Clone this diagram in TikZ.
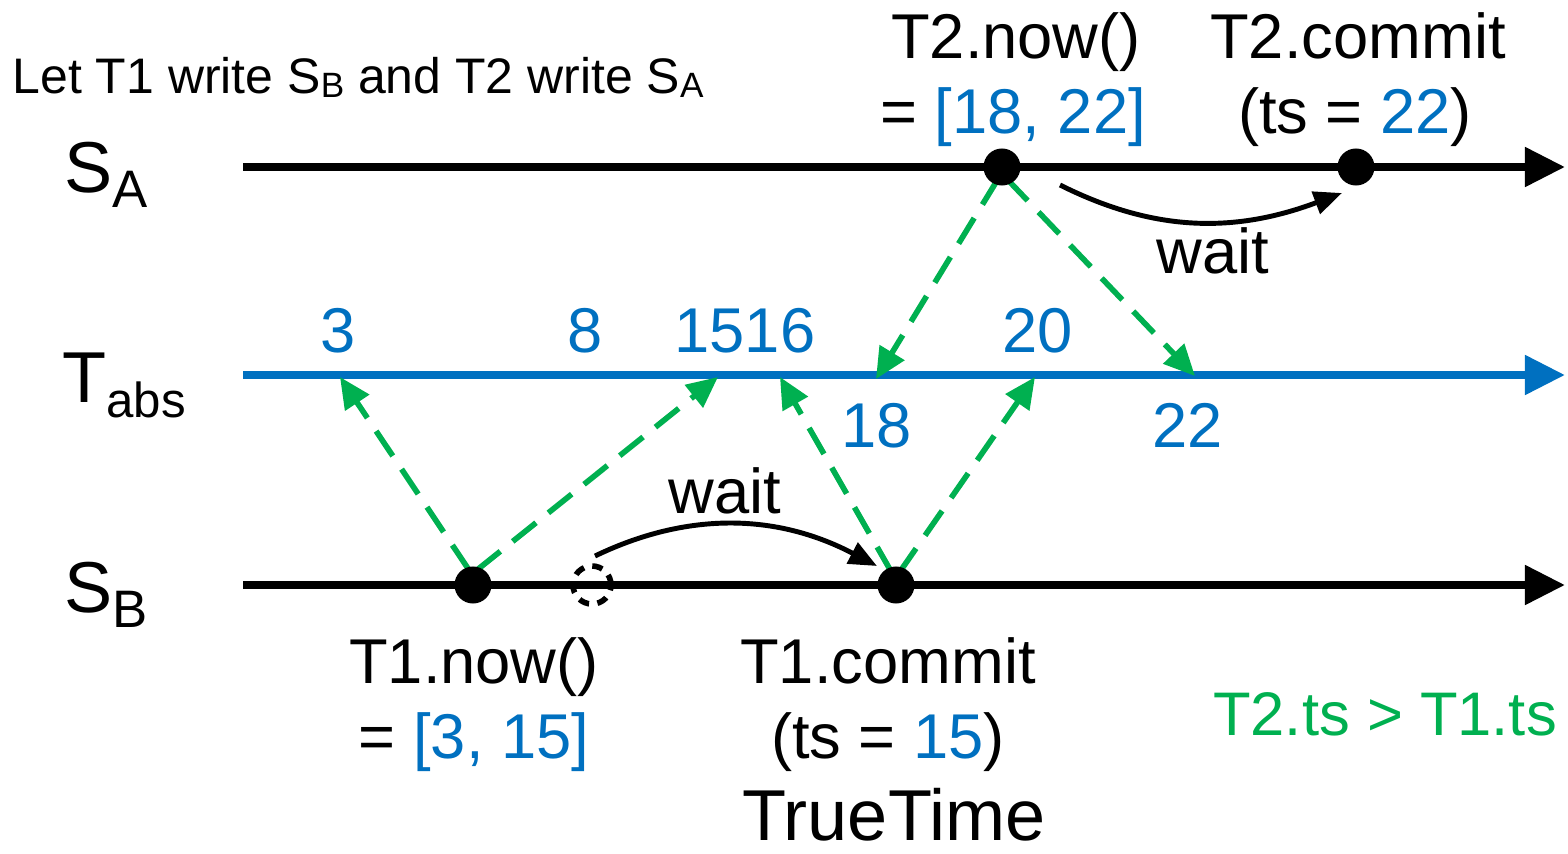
\documentclass[tikz,border=0pt]{standalone}
\usepackage{fontspec}
\setmainfont{Liberation Sans}
\usetikzlibrary{arrows.meta}
\definecolor{tblue}{RGB}{0,112,192}
\definecolor{tgreen}{RGB}{0,176,80}
\newcommand\fsz[1]{\fontsize{#1}{#1}\selectfont}
\begin{document}
\begin{tikzpicture}[x=0.01cm,y=-0.01cm,
  axis/.style={line width=2.3pt,-{Triangle[length=0.4cm,width=0.38cm]}},
  gdash/.style={tgreen,line width=1.6pt,dash pattern=on 8.5pt off 4.5pt,-{Triangle[length=0.31cm,width=0.28cm]}},
  waitarr/.style={line width=1.4pt,-{Triangle[length=0.28cm,width=0.23cm]}},
  evdot/.style={circle,fill=black,inner sep=0pt,minimum size=0.37cm},
  ghost/.style={circle,draw,line width=1.6pt,dash pattern=on 3pt off 2.4pt,inner sep=0pt,minimum size=0.38cm},
  lbl/.style={inner sep=0pt,anchor=base,font=\fsz{18}},
  num/.style={lbl,text=tblue},
  axlbl/.style={inner sep=0pt,anchor=base,font=\fsz{20.5}},
]
\useasboundingbox (0,0) rectangle (1568,854);

% axes
\coordinate (sa0) at (243,167);  \coordinate (sa1) at (1565,167);
\coordinate (ta0) at (243,375);  \coordinate (ta1) at (1565,375);
\coordinate (sb0) at (243,585);  \coordinate (sb1) at (1565,585);
\draw[axis] (sa0) -- (sa1);
\draw[axis,tblue] (ta0) -- (ta1);
\draw[axis] (sb0) -- (sb1);

% axis labels
\node[axlbl] (lsa) at (106,192) {S\raisebox{-4.3pt}{\fsz{15}A}};
\node[axlbl] (lta) at (124,402) {T\raisebox{-4.5pt}{\fsz{14}abs}};
\node[axlbl] (lsb) at (106,612) {S\raisebox{-4.3pt}{\fsz{15}B}};

% event positions
\coordinate (p1) at (473,585);
\coordinate (gh) at (592,585);
\coordinate (c1) at (896,585);
\coordinate (p2) at (1002,167);
\coordinate (c2) at (1356,167);

% points on T_abs
\coordinate (a3)  at (340,377);
\coordinate (a15) at (718,377);
\coordinate (a16) at (780,377);
\coordinate (a20) at (1035,377);
\coordinate (a18) at (876,379);
\coordinate (a22) at (1195,376);

% green dashed arrows
\draw[gdash] ([xshift=-0.04cm,yshift=0.15cm]p1) -- (a3);
\draw[gdash] ([xshift=0.04cm,yshift=0.15cm]p1) -- (a15);
\draw[gdash] ([xshift=-0.04cm,yshift=0.12cm]c1) -- (a16);
\draw[gdash] ([xshift=0.03cm,yshift=0.12cm]c1) -- (a20);
\draw[gdash] ([xshift=-0.04cm,yshift=-0.12cm]p2) -- (a18);
\draw[gdash] ([xshift=0.05cm,yshift=-0.12cm]p2) -- (a22);

% wait arrows
\coordinate (w1s) at (595,556);
\coordinate (w1e) at (877,566);
\coordinate (w2s) at (1060,185);
\coordinate (w2e) at (1342,193);
\draw[waitarr] (w1s) .. controls (680,515) and (770,510) .. (w1e);
\draw[waitarr] (w2s) .. controls (1150,230) and (1230,235) .. (w2e);

% dots
\node[evdot] (d1) at (p1) {};
\node[ghost] (d1g) at (gh) {};
\node[evdot] (d2) at (c1) {};
\node[evdot] (d3) at (p2) {};
\node[evdot] (d4) at (c2) {};

% numbers
\node[num] (n3)  at (338,352) {3};
\node[num] (n8)  at (585,352) {8};
\node[num] (n1516) at (745,352) {1516};
\node[num] (n20) at (1038,352) {20};
\node[num] (n18) at (877,447) {18};
\node[num] (n22) at (1188,447) {22};

% texts
\node[inner sep=0pt,anchor=base west,font=\fsz{14.2}] (title) at (12,93)
  {Let T1 write S\raisebox{-1.2pt}{\fsz{10}B} and T2 write S\raisebox{-1.2pt}{\fsz{10}A}};
\node[lbl] (t2now) at (1016,58) {T2.now()};
\node[lbl] (t2val) at (1013,133) {= \textcolor{tblue}{[18, 22]}};
\node[lbl] (t2c) at (1358,58) {T2.commit};
\node[lbl] (t2ts) at (1355,133) {(ts = \textcolor{tblue}{22})};
\node[lbl] (wt2) at (1213,273) {wait};
\node[lbl] (wt1) at (725,513) {wait};
\node[lbl] (t1now) at (474,683) {T1.now()};
\node[lbl] (t1val) at (474,758) {= \textcolor{tblue}{[3, 15]}};
\node[lbl] (t1c) at (888,683) {T1.commit};
\node[lbl] (t1ts) at (888,758) {(ts = \textcolor{tblue}{15})};
\node[inner sep=0pt,anchor=base,font=\fsz{20.5}] (tt) at (894,840) {TrueTime};
\node[inner sep=0pt,anchor=base,font=\fsz{17.5},text=tgreen] (cmp) at (1385,735) {T2.ts > T1.ts};
\end{tikzpicture}
\end{document}
